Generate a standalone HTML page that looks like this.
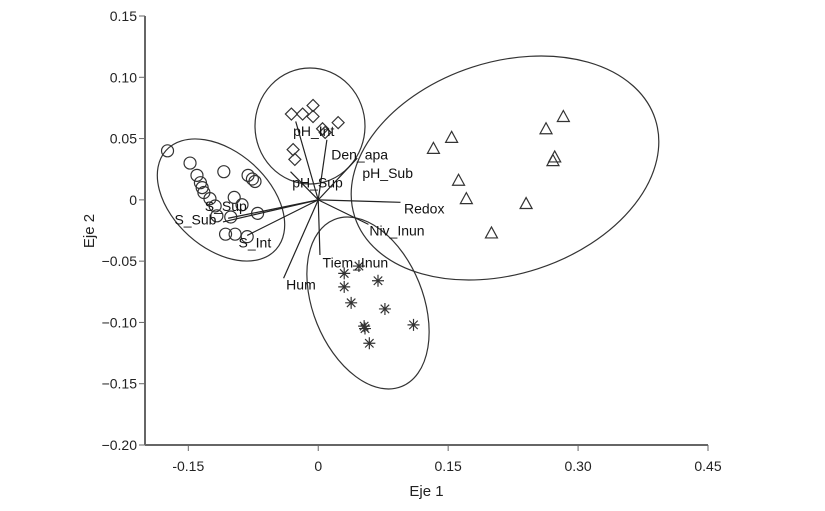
<!DOCTYPE html>
<html><head><meta charset="utf-8"><style>
body{margin:0;background:#fff}
svg{display:block;font-family:"Liberation Sans",sans-serif}
</style></head><body>
<svg id="chart" width="825" height="511" viewBox="0 0 825 511" xmlns="http://www.w3.org/2000/svg"></svg>
<script>
const xTicks=[-0.15,0,0.15,0.30,0.45];
const xTickLabels=["-0.15","0","0.15","0.30","0.45"];
const yTicks=[0.15,0.10,0.05,0,-0.05,-0.10,-0.15,-0.20];
const yTickLabels=["0.15","0.10","0.05","0","\u22120.05","\u22120.10","\u22120.15","\u22120.20"];
const circX=[-0.174,-0.148,-0.140,-0.136,-0.134,-0.132,-0.125,-0.119,-0.117,-0.109,-0.097,-0.088,-0.107,-0.096,-0.082,-0.081,-0.076,-0.073,-0.070,-0.101];
const circY=[0.040,0.030,0.020,0.014,0.010,0.006,0.001,-0.005,-0.013,0.023,0.002,-0.004,-0.028,-0.028,-0.030,0.020,0.017,0.015,-0.011,-0.014];
const diaX=[-0.031,-0.018,-0.006,-0.006,0.023,0.008,-0.029,-0.027,0.005];
const diaY=[0.070,0.070,0.077,0.068,0.063,0.055,0.041,0.033,0.058];
const triX=[0.133,0.154,0.162,0.171,0.200,0.240,0.263,0.271,0.273,0.283];
const triY=[0.042,0.051,0.016,0.001,-0.027,-0.003,0.058,0.032,0.035,0.068];
const starX=[0.030,0.030,0.047,0.069,0.038,0.077,0.053,0.054,0.110,0.059];
const starY=[-0.060,-0.071,-0.054,-0.066,-0.084,-0.089,-0.103,-0.105,-0.102,-0.117];
const vecNames=["pH_Int","Den_apa","pH_Sup","pH_Sub","Redox","Niv_Inun","Tiem_Inun","Hum","S_Sup","S_Sub","S_Int"];
const vecX=[-0.026,0.010,-0.032,0.045,0.095,0.058,0.002,-0.040,-0.104,-0.110,-0.082];
const vecY=[0.064,0.049,0.023,0.034,-0.002,-0.020,-0.045,-0.064,-0.015,-0.018,-0.029];
const labX=[-0.029,0.015,-0.030,0.051,0.099,0.059,0.005,-0.037,-0.131,-0.166,-0.092];
const labY=[0.052,0.033,0.010,0.018,-0.011,-0.029,-0.055,-0.073,-0.009,-0.020,-0.039];

const NS="http://www.w3.org/2000/svg",svg=document.getElementById('chart');
const x0=145,x1=708,y0=16,y1=445;
const sx=v=>x0+(v+0.2)/0.65*(x1-x0);
const sy=v=>y0+(0.15-v)/0.35*(y1-y0);
function mk(t,a,p){const e=document.createElementNS(NS,t);for(const k in a)e.setAttribute(k,a[k]);(p||svg).appendChild(e);return e;}
const g=mk('g',{stroke:'#333',fill:'none','stroke-width':1});


mk('line',{x1:x0,y1:y0,x2:x0,y2:y1,stroke:'#666','stroke-width':2},g);
mk('line',{x1:x0,y1:y1,x2:x1,y2:y1,stroke:'#666','stroke-width':2},g);
xTicks.forEach((v,i)=>{mk('line',{x1:sx(v),y1:y1,x2:sx(v),y2:y1+6,stroke:'#666'},g);
 const t=mk('text',{x:sx(v),y:y1+26,'text-anchor':'middle','font-size':14,fill:'#222',stroke:'none'});t.textContent=xTickLabels[i];
 
 });
yTicks.forEach((v,i)=>{mk('line',{x1:x0-6,y1:sy(v),x2:x0,y2:sy(v),stroke:'#666'},g);
 const t=mk('text',{x:x0-8,y:sy(v)+5,'text-anchor':'end','font-size':14,fill:'#222',stroke:'none'});t.textContent=yTickLabels[i];
 
 });
let t=mk('text',{x:sx(0.125),y:496,'text-anchor':'middle','font-size':15,fill:'#222'});t.textContent='Eje 1';


t=mk('text',{x:94,y:231,'text-anchor':'middle','font-size':15,fill:'#222',transform:'rotate(-90 94 231)'});t.textContent='Eje 2';


// ellipses
const ells=[[221,200,74,48,42],[310,126,55,58,0],[505,168,158,106,-18],[368,303,55,90,-22]];
ells.forEach(e=>{const el=mk('ellipse',{cx:e[0],cy:e[1],rx:e[2],ry:e[3],transform:`rotate(${e[4]} ${e[0]} ${e[1]})`,fill:'none',stroke:'#333','stroke-width':1.2});
 
 });
// points
circX.forEach((v,i)=>{const c=mk('circle',{cx:sx(v),cy:sy(circY[i]),r:6,fill:'none',stroke:'#333','stroke-width':1.2});
 
 });
diaX.forEach((v,i)=>{const X=sx(v),Y=sy(diaY[i]);const p=mk('polygon',{points:`${X},${Y-6} ${X+6},${Y} ${X},${Y+6} ${X-6},${Y}`,fill:'none',stroke:'#333','stroke-width':1.2});
 
 });
triX.forEach((v,i)=>{const X=sx(v),Y=sy(triY[i]);const p=mk('polygon',{points:`${X},${Y-6} ${X+6},${Y+5} ${X-6},${Y+5}`,fill:'none',stroke:'#333','stroke-width':1.2});
 
 });
starX.forEach((v,i)=>{const X=sx(v),Y=sy(starY[i]);let d='';for(let k=0;k<4;k++){const a=k*Math.PI/4;d+=`M${X-6*Math.cos(a)},${Y-6*Math.sin(a)}L${X+6*Math.cos(a)},${Y+6*Math.sin(a)}`;}
 const p=mk('path',{d:d,stroke:'#333','stroke-width':1.2,fill:'none'});
 
 });
// vectors
vecNames.forEach((n,i)=>{const l=mk('line',{x1:sx(0),y1:sy(0),x2:sx(vecX[i]),y2:sy(vecY[i]),stroke:'#222','stroke-width':1.2});
 
 
 const tx=mk('text',{x:sx(labX[i]),y:sy(labY[i]),'font-size':14,fill:'#111'});tx.textContent=n;
 
 });
</script>
</body></html>
